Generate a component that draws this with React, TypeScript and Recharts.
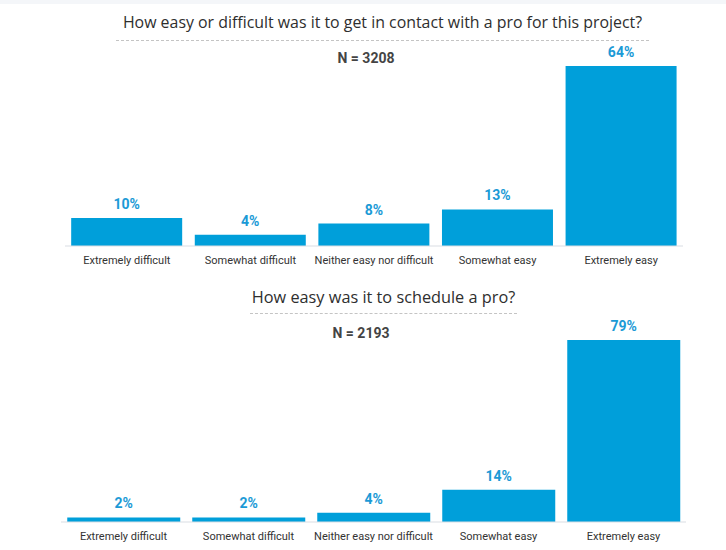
import React from 'react'
import { Bar, BarChart, LabelList, XAxis, YAxis } from 'recharts'

const categories = ['Extremely difficult', 'Somewhat difficult', 'Neither easy nor difficult', 'Somewhat easy', 'Extremely easy']
const contactValues = [10, 4, 8, 13, 64]
const scheduleValues = [2, 2, 4, 14, 79]

const contactTitle = 'How easy or difficult was it to get in contact with a pro for this project?'
const scheduleTitle = 'How easy was it to schedule a pro?'
const contactN = 'N = 3208'
const scheduleN = 'N = 2193'

const BLUE = '#009fda'
const FONT = 'Roboto, "Open Sans", sans-serif'
const TITLE_FONT = '"Open Sans", Roboto, sans-serif'

const contactData = categories.map((name, i) => ({ name, value: contactValues[i] }))
const scheduleData = categories.map((name, i) => ({ name, value: scheduleValues[i] }))

const pct = (v: any) => `${v}%`

interface PanelProps {
  data: { name: string; value: number }[]
  top: number
  height: number
  margin: { top: number; right: number; bottom: number; left: number }
  axisHeight: number
}

function Panel({ data, top, height, margin, axisHeight }: PanelProps) {
  return (
    <div style={{ position: 'absolute', left: 0, top }}>
      <BarChart width={726} height={height} data={data} margin={margin} barCategoryGap="5%">
        <XAxis
          dataKey="name"
          height={axisHeight}
          tickLine={false}
          axisLine={{ stroke: '#d9dde3' }}
          interval={0}
          tick={{ fontSize: 11, fill: '#333', fontFamily: FONT }}
          tickMargin={4}
        />
        <YAxis hide domain={[0, 'dataMax']} />
        <Bar dataKey="value" fill={BLUE} isAnimationActive={false}>
          <LabelList
            dataKey="value"
            position="top"
            offset={9}
            formatter={pct}
            style={{ fontSize: 14, fontWeight: 700, fill: '#1b9ad6', fontFamily: FONT }}
          />
        </Bar>
      </BarChart>
    </div>
  )
}

interface HeadingProps {
  text: string
  n: string
  titleY: number
  lineY: number
  nY: number
  left: number
  width: number
  nX: number
  fontSize: number
}

function Heading({ text, n, titleY, lineY, nY, left, width, nX, fontSize }: HeadingProps) {
  return (
    <>
      <div
        style={{
          position: 'absolute', left: left - 20, top: titleY - 12, width: width + 40, textAlign: 'center',
          fontFamily: TITLE_FONT, fontSize, lineHeight: '24px', color: '#2e2e2e', whiteSpace: 'nowrap',
        }}
      >
        {text}
      </div>
      <div style={{ position: 'absolute', left, top: lineY, width, borderTop: '1px dashed #c4c4c4' }} />
      <div
        style={{
          position: 'absolute', left: nX - 60, top: nY - 10, width: 120, textAlign: 'center',
          fontFamily: FONT, fontSize: 14, lineHeight: '20px', fontWeight: 700, color: '#444',
        }}
      >
        {n}
      </div>
    </>
  )
}

export default function App() {
  return (
    <div style={{ position: 'fixed', left: 0, top: 0, width: 726, height: 550, background: '#fff', overflow: 'hidden' }}>
      <div style={{ position: 'absolute', left: 0, top: 0, width: 726, height: 4, background: '#f4f6f9' }} />
      <Heading text={contactTitle} n={contactN} titleY={22} lineY={40} nY={58} left={116} width={533} nX={366} fontSize={15.9} />
      <Panel data={contactData} top={0} height={275} margin={{ top: 66, right: 43, bottom: 0, left: 65 }} axisHeight={29} />
      <Heading text={scheduleTitle} n={scheduleN} titleY={297} lineY={313} nY={333} left={250} width={267} nX={361} fontSize={16.3} />
      <Panel data={scheduleData} top={276} height={274} margin={{ top: 64, right: 40, bottom: 0, left: 61 }} axisHeight={28} />
    </div>
  )
}
